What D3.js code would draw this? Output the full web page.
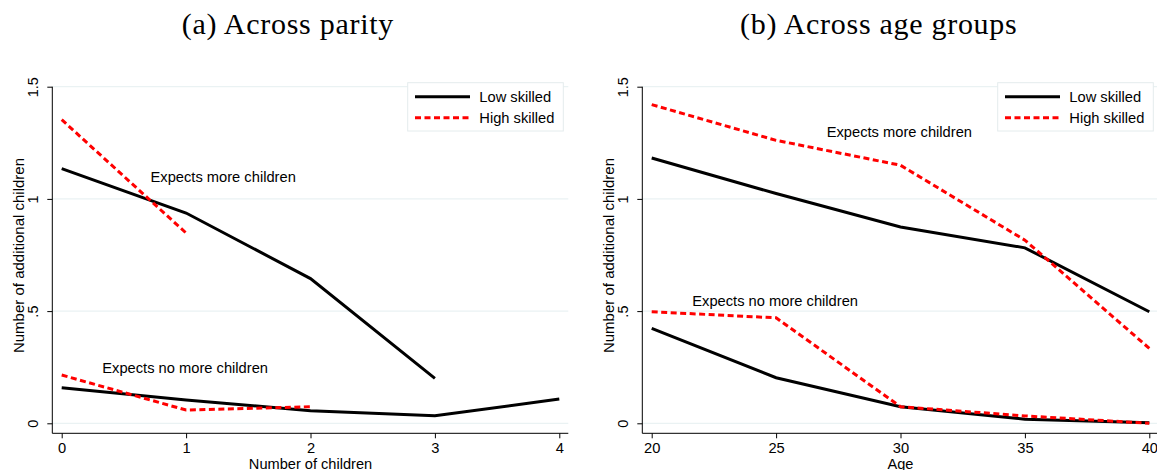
<!DOCTYPE html>
<html><head><meta charset="utf-8">
<script src="https://cdn.jsdelivr.net/npm/d3@7"></script>
<style>body{margin:0;background:#fff}svg{display:block}</style>
</head><body>
<svg id="c" width="1157" height="470"></svg>
<script>
// Panel (a): across parity
const parity = [0, 1, 2, 3, 4];
const parityLowMore = [1.135, 0.937, 0.645, 0.20];
const parityHighMore = [1.353, 0.848];
const parityLowNoMore = [0.158, 0.104, 0.056, 0.034, 0.108];
const parityHighNoMore = [0.215, 0.059, 0.074];
// Panel (b): across age groups
const ages = [20, 25, 30, 35, 40];
const ageLowMore = [1.182, 1.024, 0.875, 0.782, 0.497];
const ageHighMore = [1.42, 1.261, 1.15, 0.816, 0.334];
const ageLowNoMore = [0.423, 0.203, 0.074, 0.018, 0.003];
const ageHighNoMore = [0.497, 0.47, 0.074, 0.033, 0.0];
const yTicks = [0, 0.5, 1, 1.5];
const yTickLabels = ["0", ".5", "1", "1.5"];
const seriesNames = ["Low skilled", "High skilled"];

const svg = d3.select("#c");
const sans = "'Liberation Sans', Arial, sans-serif";
const grid = "#eaf2f3";

function panel(o) {
  const g = svg.append("g");
  const x = d3.scaleLinear().domain(o.xDomain).range([o.axisX + 9.4, o.plotRight - 9]);
  const y = d3.scaleLinear().domain([0, 1.5]).range([423.3, 86.7]);
  // grid
  g.selectAll(".grid").data(yTicks).join("line")
    .attr("x1", o.axisX).attr("x2", o.plotRight)
    .attr("y1", d => y(d)).attr("y2", d => y(d))
    .attr("stroke", grid).attr("stroke-width", 1.2);
  // axes
  const yAxis = d3.axisLeft(y).tickValues(yTicks).tickFormat((d, i) => yTickLabels[i]).tickSize(5).tickSizeOuter(0);
  const ya = g.append("g").attr("transform", `translate(${o.axisX},0)`).call(yAxis);
  ya.select(".domain").attr("d", `M0,${y(1.5)}V433.3`);
  ya.selectAll("text").attr("x", null).attr("y", null).attr("dx", null).attr("dy", null)
    .attr("text-anchor", "middle")
    .attr("transform", "translate(-14,0) rotate(-90)")
    .style("font-family", sans).style("font-size", "14.5px").attr("fill", "#000");
  const xAxis = d3.axisBottom(x).tickValues(o.xTicks).tickFormat(d3.format("d")).tickSize(5).tickSizeOuter(0);
  const xa = g.append("g").attr("transform", "translate(0,433.3)").call(xAxis);
  xa.select(".domain").attr("d", `M${o.axisX},0H${o.plotRight}`);
  xa.selectAll("text").attr("dy", null).attr("y", 20).style("font-family", sans).style("font-size", "14.7px").attr("fill", "#000");
  g.selectAll(".tick line").attr("stroke", "#000");
  // titles
  g.append("text").attr("x", (x.range()[0] + x.range()[1]) / 2).attr("y", 468.5)
    .attr("text-anchor", "middle").style("font-family", sans).style("font-size", "14.6px").text(o.xTitle);
  g.append("text").attr("transform", `translate(${o.axisX - 28.8},255.5) rotate(-90)`)
    .attr("text-anchor", "middle").style("font-family", sans).style("font-size", "15px").text("Number of additional children");
  g.append("text").attr("x", o.titleX).attr("y", 34.3)
    .attr("textLength", o.titleW).attr("lengthAdjust", "spacing")
    .style("font-family", "'Liberation Serif', 'DejaVu Serif', serif").style("font-size", "30px").text(o.title);
  // lines
  const line = d3.line().x((d, i) => x(o.xs[i])).y(d => y(d));
  const draw = (vals, red) => g.append("path").datum(vals).attr("d", line).attr("fill", "none")
    .attr("stroke", red ? "#ff0000" : "#000").attr("stroke-width", 3)
    .attr("stroke-dasharray", red ? "6,3.5" : null).attr("stroke-linejoin", "miter");
  draw(o.lowMore, false); draw(o.lowNo, false);
  draw(o.highMore, true); draw(o.highNo, true);
  // annotations
  o.notes.forEach(n => g.append("text").attr("x", n[0]).attr("y", n[1]).attr("dy", "0.35em")
    .style("font-family", sans).style("font-size", "14.7px").text(n[2]));
  // legend
  const lx = o.plotRight - 160.6;
  g.append("rect").attr("x", lx).attr("y", 82.7).attr("width", 155.6).attr("height", 48.3)
    .attr("fill", "#fff").attr("stroke", "#e4eced").attr("stroke-width", 1);
  seriesNames.forEach((s, i) => {
    const yy = 96.7 + i * 21;
    g.append("line").attr("x1", lx + 7.3).attr("x2", lx + 62.3).attr("y1", yy).attr("y2", yy)
      .attr("stroke", i ? "#ff0000" : "#000").attr("stroke-width", 3)
      .attr("stroke-dasharray", i ? "6,3.5" : null);
    g.append("text").attr("x", lx + 71.6).attr("y", yy).attr("dy", "0.35em")
      .style("font-family", sans).style("font-size", "14.7px").text(s);
  });
}

panel({axisX: 52.3, plotRight: 568.3, xDomain: [0, 4], xTicks: parity, xs: parity,
  lowMore: parityLowMore, highMore: parityHighMore, lowNo: parityLowNoMore, highNo: parityHighNoMore,
  xTitle: "Number of children", title: "(a) Across parity", titleX: 181.7, titleW: 211.6,
  notes: [[150.5, 177.3, "Expects more children"], [102.3, 368.3, "Expects no more children"]]});
panel({axisX: 642.3, plotRight: 1158.3, xDomain: [20, 40], xTicks: ages, xs: ages,
  lowMore: ageLowMore, highMore: ageHighMore, lowNo: ageLowNoMore, highNo: ageHighNoMore,
  xTitle: "Age", title: "(b) Across age groups", titleX: 740, titleW: 276.7,
  notes: [[826.7, 131.7, "Expects more children"], [692.3, 301, "Expects no more children"]]});
</script>
</body></html>
